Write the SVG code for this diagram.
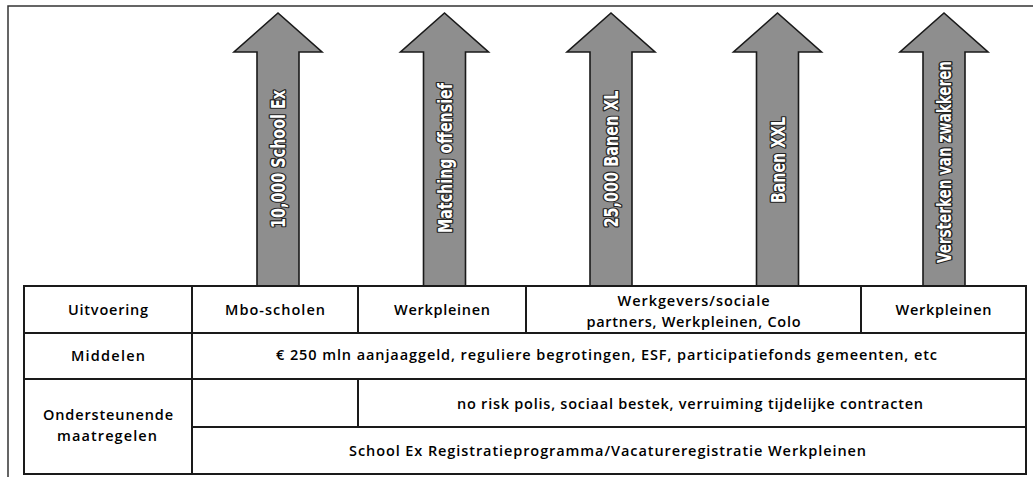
<svg xmlns="http://www.w3.org/2000/svg" width="1033" height="477" viewBox="0 0 1033 477">
<style>
.frame{fill:none;stroke:#333;stroke-width:1.5}
.arrow{fill:#8e8e8e;stroke:#1a1a1a;stroke-width:1.6;stroke-linejoin:miter}
.atext{font-family:"Liberation Sans Narrow","DejaVu Sans Condensed","Liberation Sans",sans-serif;font-stretch:condensed;font-weight:bold;font-size:20px;fill:#fff;stroke:#222;stroke-width:2.6;paint-order:stroke;stroke-linejoin:round;text-anchor:middle}
.cell{fill:#fff;stroke:#1a1a1a;stroke-width:2}
.line{stroke:#1a1a1a;stroke-width:2;fill:none}
.t{font-family:"Open Sans","Noto Sans",sans-serif;font-size:14.5px;font-weight:600;fill:#000;text-anchor:middle}
</style>
<rect width="1033" height="477" fill="#fff"/>
<path class="frame" d="M8,477 V6 H1033"/>

<g id="arrows">
  <g id="arrow1">
    <polygon class="arrow" points="257,286 257,52 234,52 278,13 322,52 299,52 299,286"/>
    <text class="atext" transform="translate(278,159) rotate(-90)" y="7" textLength="138" lengthAdjust="spacingAndGlyphs">10,000 School Ex</text>
  </g>
  <g id="arrow2">
    <polygon class="arrow" points="423.5,286 423.5,52 400.5,52 444.5,13 488.5,52 465.5,52 465.5,286"/>
    <text class="atext" transform="translate(444.5,158) rotate(-90)" y="7" textLength="150" lengthAdjust="spacingAndGlyphs">Matching offensief</text>
  </g>
  <g id="arrow3">
    <polygon class="arrow" points="590,286 590,52 567,52 611,13 655,52 632,52 632,286"/>
    <text class="atext" transform="translate(611,159) rotate(-90)" y="7" textLength="137" lengthAdjust="spacingAndGlyphs">25,000 Banen XL</text>
  </g>
  <g id="arrow4">
    <polygon class="arrow" points="756.5,286 756.5,52 733.5,52 777.5,13 821.5,52 798.5,52 798.5,286"/>
    <text class="atext" transform="translate(777.5,160) rotate(-90)" y="7" textLength="86" lengthAdjust="spacingAndGlyphs">Banen XXL</text>
  </g>
  <g id="arrow5">
    <polygon class="arrow" points="923,286 923,52 900,52 944,13 988,52 965,52 965,286"/>
    <text class="atext" style="font-size:15px;stroke-width:2.2" transform="translate(944,162) rotate(-90) scale(1,1.33)" y="5.3" textLength="202" lengthAdjust="spacingAndGlyphs">Versterken van zwakkeren</text>
  </g>
</g>

<g id="table">
  <rect class="cell" x="24" y="286" width="1002" height="188"/>
  <g id="grid">
    <line class="line" x1="24" y1="333" x2="1026" y2="333"/>
    <line class="line" x1="24" y1="379" x2="1026" y2="379"/>
    <line class="line" x1="192" y1="427" x2="1026" y2="427"/>
    <line class="line" x1="192" y1="286" x2="192" y2="474"/>
    <line class="line" x1="358" y1="286" x2="358" y2="333"/>
    <line class="line" x1="526" y1="286" x2="526" y2="333"/>
    <line class="line" x1="861" y1="286" x2="861" y2="333"/>
    <line class="line" x1="358" y1="379" x2="358" y2="427"/>
  </g>
  <g id="row-uitvoering">
    <text class="t" x="108" y="315" textLength="80" lengthAdjust="spacing">Uitvoering</text>
    <text class="t" x="275" y="315" textLength="100" lengthAdjust="spacing">Mbo-scholen</text>
    <text class="t" x="442" y="315" textLength="96" lengthAdjust="spacing">Werkpleinen</text>
    <text class="t" x="693.5" y="305.5" textLength="152" lengthAdjust="spacing">Werkgevers/sociale</text>
    <text class="t" x="693.5" y="326.5" textLength="214" lengthAdjust="spacing">partners, Werkpleinen, Colo</text>
    <text class="t" x="943.5" y="315" textLength="96" lengthAdjust="spacing">Werkpleinen</text>
  </g>
  <g id="row-middelen">
    <text class="t" x="108" y="361" textLength="74" lengthAdjust="spacing">Middelen</text>
    <text class="t" x="606.5" y="360" textLength="661" lengthAdjust="spacing">€ 250 mln aanjaaggeld, reguliere begrotingen, ESF, participatiefonds gemeenten, etc</text>
  </g>
  <g id="row-ondersteunende">
    <text class="t" x="108" y="420" textLength="130" lengthAdjust="spacing">Ondersteunende</text>
    <text class="t" x="107" y="441" textLength="100" lengthAdjust="spacing">maatregelen</text>
    <text class="t" x="690" y="409" textLength="466" lengthAdjust="spacing">no risk polis, sociaal bestek, verruiming tijdelijke contracten</text>
    <text class="t" x="607.5" y="456" textLength="517" lengthAdjust="spacing">School Ex Registratieprogramma/Vacatureregistratie Werkpleinen</text>
  </g>
</g>
</svg>
